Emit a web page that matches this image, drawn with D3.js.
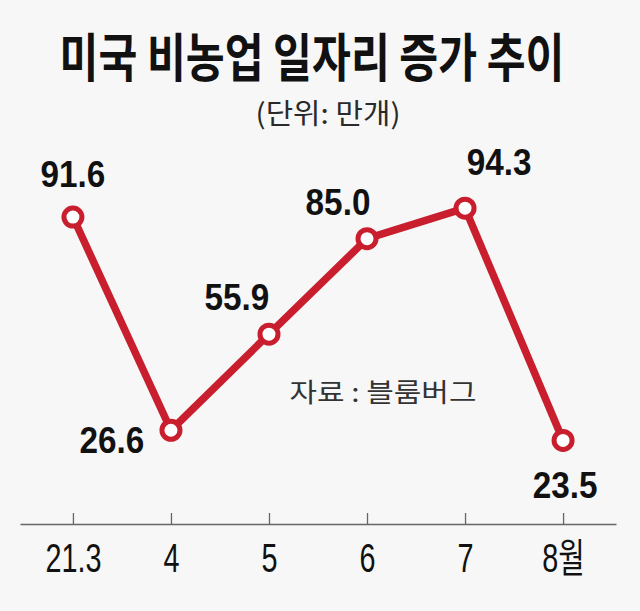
<!DOCTYPE html>
<html>
<head>
<meta charset="utf-8">
<script src="https://cdn.jsdelivr.net/npm/d3@7"></script>
<style>
  html, body { margin: 0; padding: 0; background: #f7f7f7; }
  svg { display: block; }
</style>
</head>
<body>
<svg id="chart" width="640" height="611"></svg>
<script>
const categories = ["21.3", "4", "5", "6", "7", "8월"];
const values = [91.6, 26.6, 55.9, 85.0, 94.3, 23.5];
const valueLabels = ["91.6", "26.6", "55.9", "85.0", "94.3", "23.5"];
const title = "미국 비농업 일자리 증가 추이";
const unitText = "(단위: 만개)";
const sourceText = "자료 : 블룸버그";

// label placement offsets (style only)
const labelDx = [0, -59, -32, -29, 34, 2];
const labelDy = [-30, 23, -24, -24, -33, 58];

const svg = d3.select("#chart");
const W = 640, H = 611;
const red = "#c81e2d";

svg.append("rect").attr("width", W).attr("height", H).attr("fill", "#f7f7f7");

const x = d3.scalePoint().domain(categories).range([20, 616]).padding(0.54);
const y = d3.scaleLinear().domain([0, 100]).range([517.5, 189.5]);

// fit text horizontally to a target width by scaling about its centre
function fitText(sel, cx, cy, targetW) {
  sel.attr("x", 0).attr("y", 0).attr("text-anchor", "middle");
  const w = sel.node().getComputedTextLength();
  const s = targetW / w;
  sel.attr("transform", `translate(${cx},${cy}) scale(${s},1)`);
}

// Title
const tTitle = svg.append("text")
  .attr("font-family", "'Noto Sans CJK KR', sans-serif")
  .attr("font-weight", 700)
  .attr("font-size", 52)
  .attr("fill", "#111")
  .text(title);
fitText(tTitle, 312, 77, 505);

const tUnit = svg.append("text")
  .attr("font-family", "'Noto Sans CJK KR', sans-serif")
  .attr("font-weight", 400)
  .attr("font-size", 28)
  .attr("fill", "#2a2a2a")
  .text(unitText);
fitText(tUnit, 328, 124, 145);

const tSrc = svg.append("text")
  .attr("font-family", "'Noto Sans CJK KR', sans-serif")
  .attr("font-weight", 400)
  .attr("font-size", 26)
  .attr("fill", "#333")
  .text(sourceText);
fitText(tSrc, 383, 402, 187);

// Axis
const axisY = 524;
const axis = d3.axisBottom(x).tickSizeInner(-11).tickSizeOuter(0).tickPadding(0);
const gAxis = svg.append("g").attr("transform", `translate(0,${axisY})`).call(axis);
gAxis.select(".domain").attr("stroke", "#666").attr("stroke-width", 1.6);
gAxis.selectAll(".tick line").attr("stroke", "#666").attr("stroke-width", 1.3);
gAxis.selectAll(".tick text")
  .attr("y", 0).attr("dy", 0)
  .attr("transform", "translate(0,48) scale(0.72,1)")
  .attr("font-family", "'Liberation Sans', 'Noto Sans CJK KR', sans-serif")
  .attr("font-size", 40)
  .attr("fill", "#111");

// Line
const line = d3.line()
  .x((d, i) => x(categories[i]))
  .y(d => y(d));

svg.append("path")
  .datum(values)
  .attr("d", line)
  .attr("fill", "none")
  .attr("stroke", red)
  .attr("stroke-width", 7.5)
  .attr("stroke-linejoin", "round");

svg.selectAll("circle.pt")
  .data(values)
  .enter().append("circle")
  .attr("class", "pt")
  .attr("cx", (d, i) => x(categories[i]))
  .attr("cy", d => y(d))
  .attr("r", 9)
  .attr("fill", "#fff")
  .attr("stroke", red)
  .attr("stroke-width", 5);

svg.selectAll("text.val")
  .data(values)
  .enter().append("text")
  .attr("class", "val")
  .attr("transform", (d, i) => `translate(${x(categories[i]) + labelDx[i]},${y(d) + labelDy[i]}) scale(0.9,1)`)
  .attr("text-anchor", "middle")
  .attr("font-family", "'Liberation Sans', Arial, sans-serif")
  .attr("font-weight", 700)
  .attr("font-size", 37)
  .attr("fill", "#111")
  .text((d, i) => valueLabels[i]);
</script>
</body>
</html>
